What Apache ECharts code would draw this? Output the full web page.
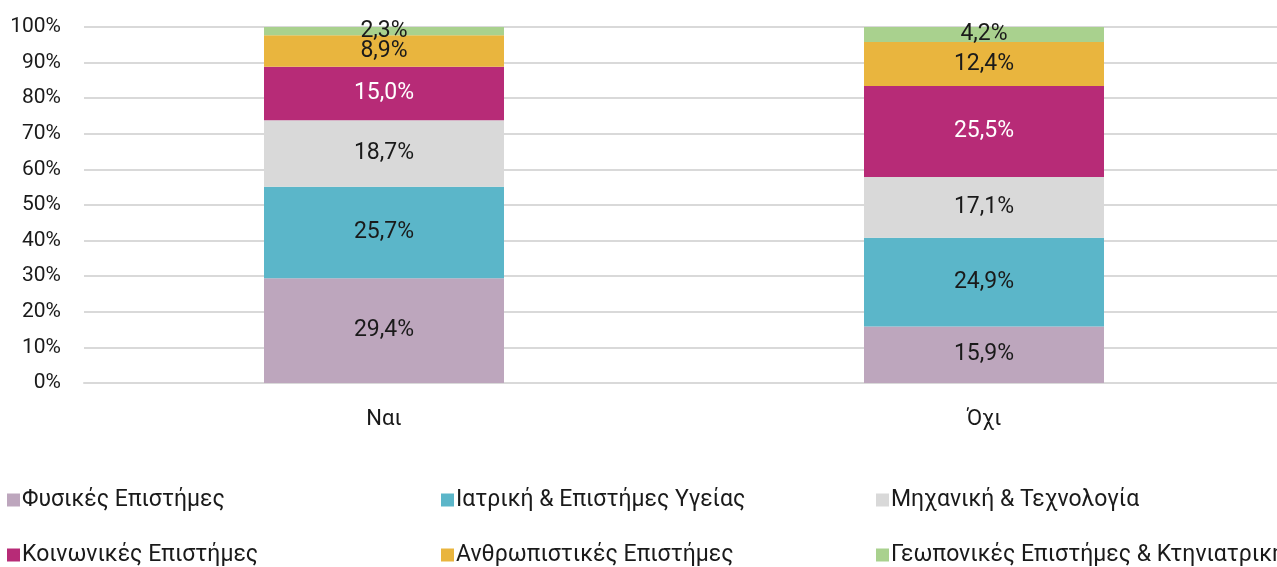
<!DOCTYPE html>
<html>
<head>
<meta charset="utf-8">
<script src="https://cdn.jsdelivr.net/npm/echarts@6/dist/echarts.min.js"></script>
<style>
  html, body { margin: 0; padding: 0; background: #fff; }
  #chart { width: 1277px; height: 567px; }
</style>
</head>
<body>
<div id="chart"></div>
<script>
// Categories on the x axis
const categories = ['Ναι', 'Όχι'];

// Share (%) per field of science, for each category
const fysikes        = [29.4, 15.9];
const iatriki        = [25.7, 24.9];
const mixaniki       = [18.7, 17.1];
const koinonikes     = [15.0, 25.5];
const anthropistikes = [8.9, 12.4];
const geoponikes     = [2.3, 4.2];

const seriesNames = [
  'Φυσικές Επιστήμες',
  'Ιατρική & Επιστήμες Υγείας',
  'Μηχανική & Τεχνολογία',
  'Κοινωνικές Επιστήμες',
  'Ανθρωπιστικές Επιστήμες',
  'Γεωπονικές Επιστήμες & Κτηνιατρική'
];
const seriesData = [fysikes, iatriki, mixaniki, koinonikes, anthropistikes, geoponikes];
const colors = ['#BDA6BD', '#5BB6C9', '#D9D9D9', '#B72B77', '#E9B53E', '#A9D18E'];
const labelColors = ['#1a1a1a', '#1a1a1a', '#1a1a1a', '#ffffff', '#1a1a1a', '#1a1a1a'];

const yTicks = { min: 0, max: 100, interval: 10 };

const FONT = 'Roboto';

const series = seriesNames.map((name, i) => ({
  name: name,
  type: 'bar',
  stack: 'total',
  barWidth: '40%',
  data: seriesData[i],
  itemStyle: { color: colors[i] },
  label: {
    show: true,
    position: 'inside',
    color: labelColors[i],
    fontFamily: FONT,
    fontSize: 23,
    formatter: p => p.value.toFixed(1).replace('.', ',') + '%'
  },
  emphasis: { disabled: true }
}));

function legendCol(left, names) {
  return {
    orient: 'vertical',
    left: left,
    top: 488,
    padding: 0,
    itemWidth: 13,
    itemHeight: 13,
    itemGap: 31,
    icon: 'rect',
    data: names,
    selectedMode: false,
    textStyle: {
      fontFamily: FONT, fontSize: 23, lineHeight: 24, color: '#1a1a1a',
      padding: [0, 0, 0, -3]
    }
  };
}

const option = {
  animation: false,
  color: colors,
  // plot area runs slightly past the right edge of the canvas
  grid: {
    left: 84, width: 1200, top: 27, bottom: 184,
    containLabel: false, outerBoundsMode: 'none'
  },
  legend: [
    legendCol(7, [seriesNames[0], seriesNames[3]]),
    legendCol(441, [seriesNames[1], seriesNames[4]]),
    legendCol(876, [seriesNames[2], seriesNames[5]])
  ],
  xAxis: {
    type: 'category',
    data: categories,
    axisLine: { show: true, lineStyle: { color: '#D9D9D9', width: 2 } },
    axisTick: { show: false },
    axisLabel: { fontFamily: FONT, fontSize: 22, color: '#1a1a1a', margin: 25 }
  },
  yAxis: {
    type: 'value',
    min: yTicks.min,
    max: yTicks.max,
    interval: yTicks.interval,
    axisLine: { show: false },
    axisTick: { show: false },
    axisLabel: {
      fontFamily: FONT, fontSize: 21, color: '#1a1a1a', margin: 23,
      formatter: '{value}%'
    },
    splitLine: { lineStyle: { color: '#D9D9D9', width: 2 } }
  },
  series: series
};

const chart = echarts.init(document.getElementById('chart'), null, { renderer: 'canvas' });
chart.setOption(option);
</script>
</body>
</html>
